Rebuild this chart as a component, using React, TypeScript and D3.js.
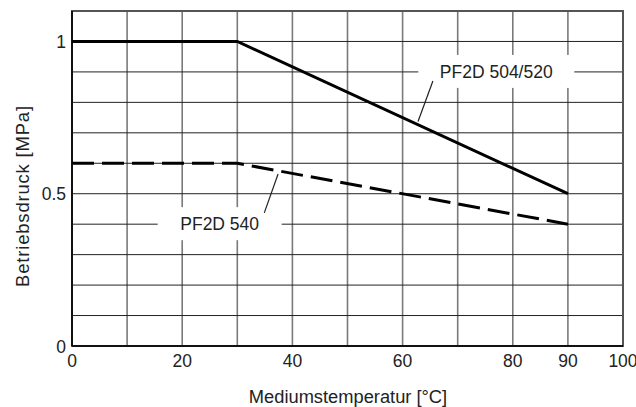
import React from "react";
import * as d3 from "d3";

const xTicks = [0, 20, 40, 60, 80, 90, 100];
const yTicks = [0, 0.5, 1];
const xGrid = [10, 20, 30, 40, 50, 60, 70, 80, 90];
const yGrid = [0.1, 0.2, 0.3, 0.4, 0.5, 0.6, 0.7, 0.8, 0.9, 1.0];

const temps504 = [0, 30, 90];
const press504 = [1, 1, 0.5];
const temps540 = [0, 30, 90];
const press540 = [0.6, 0.6, 0.4];

const labelNames = ["PF2D 504/520", "PF2D 540"];
const labelX = [77, 26.8];
const labelY = [0.9, 0.4];
const leaderFrom = [[65.5, 0.87], [34.9, 0.437]];
const leaderTo = [[62.8, 0.737], [37.4, 0.565]];
const boxW = [156, 124];

const W = 636, H = 407;
const x = d3.scaleLinear().domain([0, 100]).range([72, 623]);
const y = d3.scaleLinear().domain([0, 1.1]).range([346, 11]);
const FONT = "'Liberation Sans', Arial, Helvetica, sans-serif";

export default function App() {
  const line = d3.line<[number, number]>().x(d => x(d[0])).y(d => y(d[1]));
  const d504 = line(temps504.map((t, i) => [t, press504[i]] as [number, number]))!;
  const d540 = line(temps540.map((t, i) => [t, press540[i]] as [number, number]))!;
  return (
    <svg width={W} height={H} style={{ position: "absolute", left: 0, top: 0, background: "#fff" }} fontFamily={FONT}>
      <rect x={0} y={0} width={W} height={H} fill="#fff" />
      {xGrid.map(v => (
        <line key={"xg" + v} x1={x(v)} x2={x(v)} y1={y(0)} y2={y(1.1)} stroke="#7a7a7a" strokeWidth={1.6} />
      ))}
      {yGrid.map(v => (
        <line key={"yg" + v} x1={x(0)} x2={x(100)} y1={y(v)} y2={y(v)} stroke="#222" strokeWidth={1} />
      ))}
      <rect x={x(0)} y={y(1.1)} width={x(100) - x(0)} height={y(0) - y(1.1)} fill="none" stroke="#555" strokeWidth={2} />
      <line x1={x(0)} x2={x(0)} y1={y(0)} y2={y(1.1)} stroke="#111" strokeWidth={2} />
      <line x1={x(0)} x2={x(100)} y1={y(0)} y2={y(0)} stroke="#111" strokeWidth={2} />
      {labelNames.map((n, i) => (
        <g key={n}>
          <rect x={x(labelX[i]) - boxW[i] / 2} y={y(labelY[i]) - 17} width={boxW[i]} height={33} fill="#fff" />
          <text x={x(labelX[i])} y={y(labelY[i])} dy="0.36em" textAnchor="middle" fontSize={17.5} fill="#222">{n}</text>
          <line x1={x(leaderFrom[i][0])} y1={y(leaderFrom[i][1])} x2={x(leaderTo[i][0])} y2={y(leaderTo[i][1])} stroke="#222" strokeWidth={1.2} />
        </g>
      ))}
      <path d={d504} fill="none" stroke="#000" strokeWidth={3} />
      <path d={d540} fill="none" stroke="#000" strokeWidth={3} strokeDasharray="22 8" />
      {xTicks.map(v => (
        <text key={"xt" + v} x={x(v)} y={361} dy="0.36em" textAnchor="middle" fontSize={17.5} fill="#222">{v}</text>
      ))}
      {yTicks.map(v => (
        <text key={"yt" + v} x={66} y={y(v) + (v === 0 ? 1 : 0)} dy="0.36em" textAnchor="end" fontSize={17.5} fill="#222">{v}</text>
      ))}
      <text x={348} y={396} dy="0.36em" textAnchor="middle" fontSize={18.3} fill="#222">Mediumstemperatur [°C]</text>
      <text transform={`translate(22,196) rotate(-90)`} dy="0.36em" textAnchor="middle" fontSize={18.5} letterSpacing={0.8} fill="#222">Betriebsdruck [MPa]</text>
    </svg>
  );
}
